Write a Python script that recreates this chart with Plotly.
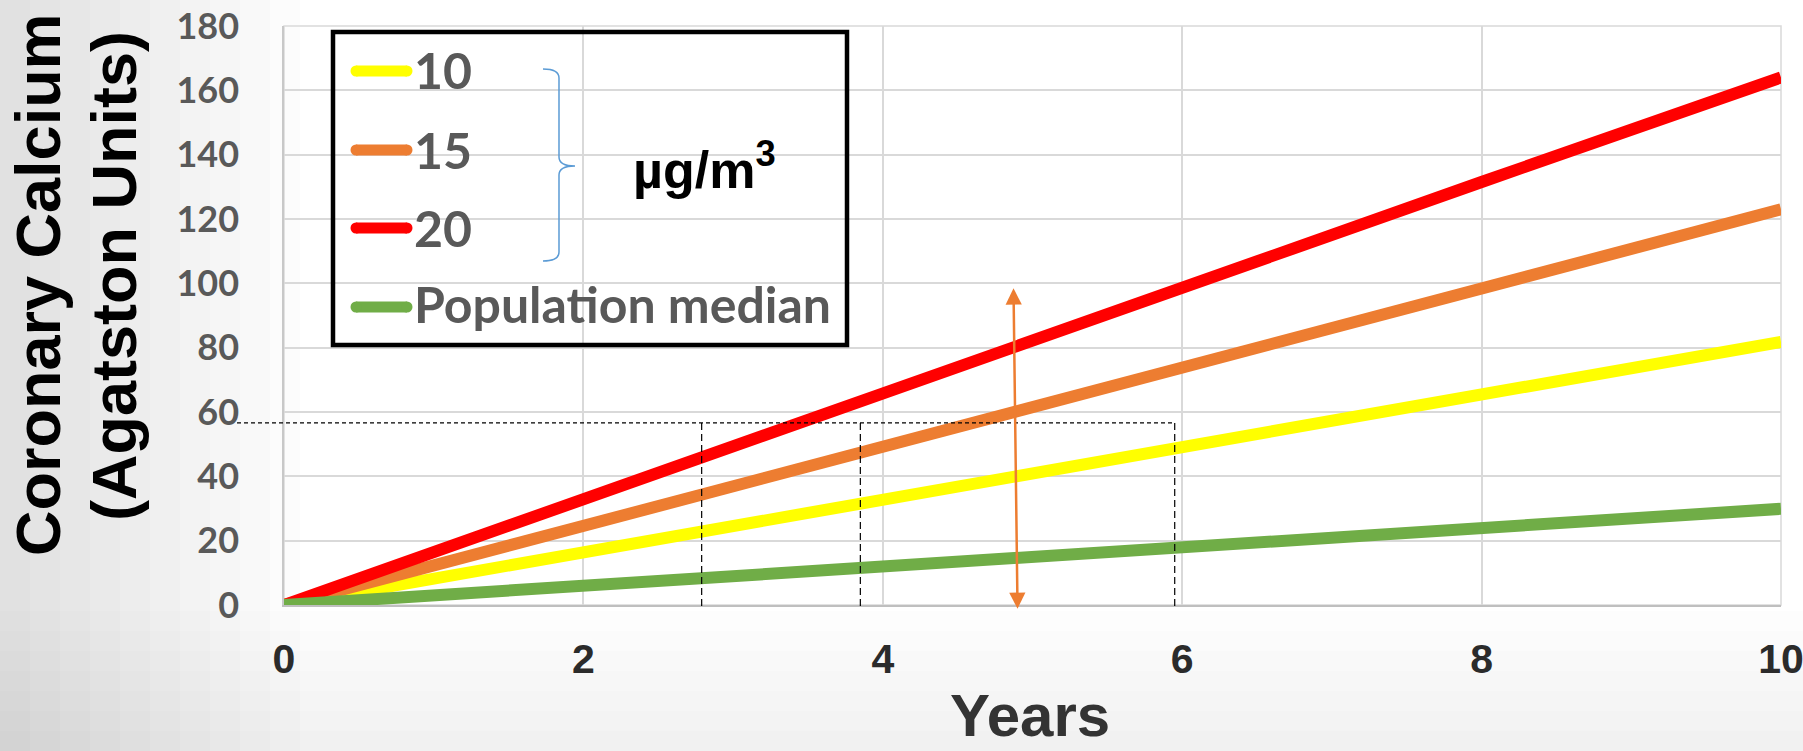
import plotly.graph_objects as go

# ---------------- data ----------------
years = [0, 2, 4, 6, 8, 10]
pm10 = [0, 16.4, 32.6, 49.2, 65.6, 81.8]
pm15 = [0, 24.6, 49.0, 74.0, 98.5, 123.0]
pm20 = [0, 33.0, 65.8, 99.0, 131.5, 164.0]
pop_median = [0, 5.8, 11.8, 17.7, 23.7, 29.9]

series_names = ["10", "15", "20", "Population median"]
series_values = [pm10, pm15, pm20, pop_median]
series_colors = ["#FFFF00", "#ED7D31", "#FF0000", "#70AD47"]

x_ticks = [0, 2, 4, 6, 8, 10]
y_ticks = [0, 20, 40, 60, 80, 100, 120, 140, 160, 180]

ref_level = 56.6                 # dashed horizontal reference level
ref_years = [2.79, 3.85, 5.95]   # dashed vertical drop lines
arrow_top = (4.873, 98.9)
arrow_bottom = (4.90, -1.2)

unit_text = "µg/m<sup>3</sup>"
y_title_lines = ["Coronary Calcium", "(Agatston Units)"]
x_title = "Years"

# ---------------- geometry helpers ----------------
W, H = 1803, 751
ML, MR, MT, MB = 284, 22, 26, 146
PW = W - ML - MR
PH = H - MT - MB
X_RANGE = [0, 10]
Y_RANGE = [0, 180]


def pxp(x):
    return (x - ML) / PW


def pyp(y):
    return (H - MB - y) / PH


def dxp(v):
    return (v - X_RANGE[0]) / (X_RANGE[1] - X_RANGE[0])


def dyp(v):
    return (v - Y_RANGE[0]) / (Y_RANGE[1] - Y_RANGE[0])


ARIAL = "Liberation Sans, Arial, sans-serif"
CALIBRI = "Lato, Carlito, Calibri, sans-serif"

fig = go.Figure()
for name, vals, col in zip(series_names, series_values, series_colors):
    fig.add_trace(go.Scatter(x=years, y=vals, mode="lines", name=name,
                             line=dict(color=col, width=12), showlegend=False,
                             hoverinfo="skip"))

shapes = []
# subtle slide background gradient (left and bottom)
for k in range(1, 11):
    shapes.append(dict(type="rect", xref="paper", yref="paper", layer="below",
                       x0=pxp(0), x1=pxp(30 * k), y0=pyp(H), y1=pyp(0),
                       line=dict(width=0), fillcolor="rgba(0,0,0,0.012)"))
for k in range(1, 8):
    shapes.append(dict(type="rect", xref="paper", yref="paper", layer="below",
                       x0=pxp(0), x1=pxp(W), y0=pyp(H), y1=pyp(H - 20 * k),
                       line=dict(width=0), fillcolor="rgba(0,0,0,0.006)"))
# plot border
shapes.append(dict(type="rect", xref="paper", yref="paper", layer="below",
                   x0=0, x1=1, y0=0, y1=1, line=dict(color="#d9d9d9", width=1.5)))
# dashed reference lines
shapes.append(dict(type="line", xref="paper", yref="paper",
                   x0=pxp(237), x1=dxp(ref_years[-1]), y0=dyp(ref_level), y1=dyp(ref_level),
                   line=dict(color="black", width=1.2, dash="4px,3px")))
for ry in ref_years:
    shapes.append(dict(type="line", xref="paper", yref="paper",
                       x0=dxp(ry), x1=dxp(ry), y0=dyp(ref_level), y1=pyp(610),
                       line=dict(color="black", width=1.2, dash="7px,4px")))
# legend box
shapes.append(dict(type="rect", xref="paper", yref="paper",
                   x0=pxp(333), x1=pxp(847), y0=pyp(345), y1=pyp(32),
                   line=dict(color="black", width=4.5)))
legend_rows = [71, 150, 228, 307]
for yy, col in zip(legend_rows, series_colors):
    shapes.append(dict(type="line", xref="paper", yref="paper",
                       x0=pxp(356), x1=pxp(407), y0=pyp(yy), y1=pyp(yy),
                       line=dict(color=col, width=11)))
    for cx in (356, 407):
        shapes.append(dict(type="circle", xref="paper", yref="paper",
                           x0=pxp(cx - 5.5), x1=pxp(cx + 5.5),
                           y0=pyp(yy + 5.5), y1=pyp(yy - 5.5),
                           fillcolor=col, line=dict(width=0)))
# blue curly bracket
bracket_pts = [("M", 543, 69), ("Q", 559, 69), ("", 559, 78), ("L", 559, 157),
               ("Q", 559, 166), ("", 575, 166), ("Q", 559, 166), ("", 559, 175),
               ("L", 559, 252), ("Q", 559, 261), ("", 543, 261)]
path = " ".join(f"{c}{pxp(x):.5f},{pyp(y):.5f}" for c, x, y in bracket_pts)
shapes.append(dict(type="path", xref="paper", yref="paper", path=path,
                   line=dict(color="#5B9BD5", width=1.5)))

annotations = []
annotations.append(dict(text=y_title_lines[0], x=pxp(38), y=pyp(285), xref="paper", yref="paper",
                        textangle=-90, showarrow=False, xanchor="center", yanchor="middle",
                        font=dict(family=ARIAL, size=63, color="black", weight="bold")))
annotations.append(dict(text=y_title_lines[1], x=pxp(114), y=pyp(276), xref="paper", yref="paper",
                        textangle=-90, showarrow=False, xanchor="center", yanchor="middle",
                        font=dict(family=ARIAL, size=63, color="black", weight="bold")))
annotations.append(dict(text=x_title, x=pxp(1030), y=pyp(715), xref="paper", yref="paper",
                        showarrow=False, xanchor="center", yanchor="middle", borderpad=0,
                        font=dict(family=ARIAL, size=60, color="#333333", weight="bold")))
legend_text_y = [70, 150, 228, 304]
for name, yy in zip(series_names, legend_text_y):
    annotations.append(dict(text=name, x=pxp(412), y=pyp(yy), xref="paper", yref="paper",
                            showarrow=False, xanchor="left", yanchor="middle",
                            font=dict(family=CALIBRI, size=50, color="#595959", weight="bold")))
annotations.append(dict(text=unit_text, x=pxp(704), y=pyp(166), xref="paper", yref="paper",
                        showarrow=False, xanchor="center", yanchor="middle",
                        font=dict(family=ARIAL, size=52, color="black", weight="bold")))
annotations.append(dict(text="", x=arrow_bottom[0], y=arrow_bottom[1], xref="x", yref="y",
                        ax=arrow_top[0], ay=arrow_top[1], axref="x", ayref="y",
                        showarrow=True, arrowside="end+start", arrowhead=2, startarrowhead=2,
                        arrowwidth=2.5, arrowsize=1.3, startarrowsize=1.3,
                        arrowcolor="#ED7D31", standoff=0, startstandoff=0))

fig.update_layout(
    width=W, height=H,
    margin=dict(l=ML, r=MR, t=MT, b=MB, autoexpand=False),
    paper_bgcolor="white", plot_bgcolor="white",
    shapes=shapes, annotations=annotations,
    showlegend=False,
    xaxis=dict(range=X_RANGE, tickvals=x_ticks, ticktext=[str(v) for v in x_ticks],
               tickfont=dict(family=ARIAL, size=41, color="#2b2b2b", weight="bold"),
               showgrid=True, gridcolor="#d9d9d9", gridwidth=1.5,
               showline=True, linecolor="#bfbfbf", linewidth=2,
               ticks="", zeroline=False, ticklabelstandoff=17, automargin=False,
               ticklabeloverflow="allow", fixedrange=True),
    yaxis=dict(range=Y_RANGE, tickvals=y_ticks, ticktext=[str(v) for v in y_ticks],
               tickfont=dict(family=CALIBRI, size=36, color="#595959", weight="bold"),
               showgrid=True, gridcolor="#d9d9d9", gridwidth=1.5,
               showline=True, linecolor="#c8c8c8", linewidth=1.5,
               ticks="", zeroline=False, ticklabelstandoff=36, automargin=False,
               ticklabeloverflow="allow", fixedrange=True),
)

fig.write_html("out.html")
